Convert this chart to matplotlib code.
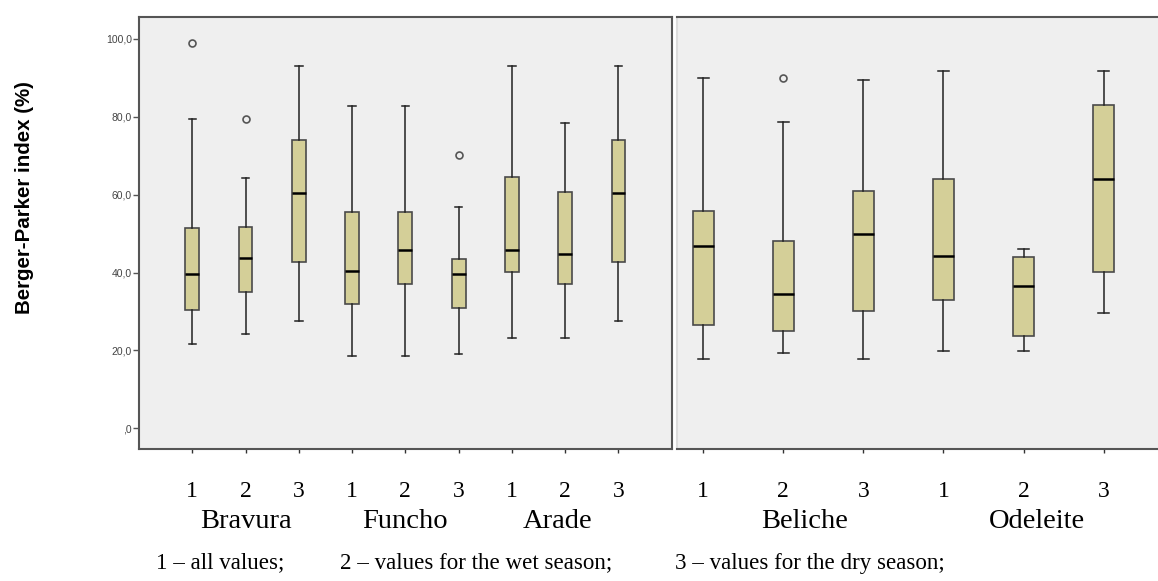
import matplotlib
matplotlib.use("Agg")
import matplotlib.pyplot as plt
import matplotlib.transforms as mtransforms

# data (Berger-Parker index, %)
left_groups = ['Bravura', 'Funcho', 'Arade']
right_groups = ['Beliche', 'Odeleite']
season_labels = ['1', '2', '3']

left_whishi = [79.5, 64.4, 93.1, 82.9, 82.9, 56.8, 93.1, 78.5, 93.1]
left_q3 = [51.4, 51.7, 74.1, 55.5, 55.5, 43.6, 64.5, 60.8, 74.1]
left_med = [39.6, 43.7, 60.4, 40.4, 45.9, 39.6, 45.7, 44.9, 60.4]
left_q1 = [30.4, 34.9, 42.8, 32.0, 37.1, 31.0, 40.1, 37.2, 42.8]
left_whislo = [21.7, 24.3, 27.6, 18.6, 18.6, 19.1, 23.2, 23.2, 27.6]
left_fliers = [[98.9], [79.4], [], [], [], [70.3], [], [], []]

right_whishi = [89.9, 78.7, 89.5, 91.9, 46.1, 91.9]
right_q3 = [55.9, 48.2, 61.0, 64.0, 44.1, 83.0]
right_med = [46.8, 34.5, 49.8, 44.2, 36.5, 64.0]
right_q1 = [26.5, 24.9, 30.2, 33.0, 23.6, 40.1]
right_whislo = [17.8, 19.3, 17.8, 19.9, 19.9, 29.7]
right_fliers = [[], [90.0], [], [], [], []]

y_ticks = [0, 20, 40, 60, 80, 100]
y_tick_labels = [',0', '20,0', '40,0', '60,0', '80,0', '100,0']

footnotes = ['1 \u2013 all values;', '2 \u2013 values for the wet season;',
             '3 \u2013 values for the dry season;']

W, H = 1158, 581
BOX_FILL = '#d4cf98'
BG = '#efefef'
FRAME = '#555555'


def make_stats(whislo, q1, med, q3, whishi, fliers):
    stats = []
    for i in range(len(med)):
        stats.append(dict(whislo=whislo[i], q1=q1[i], med=med[i], q3=q3[i],
                          whishi=whishi[i], fliers=fliers[i]))
    return stats


def px_axes(fig, x0, y0, x1, y1):
    return fig.add_axes([x0 / W, 1 - y1 / H, (x1 - x0) / W, (y1 - y0) / H])


def draw_boxes(ax, stats):
    pos = list(range(1, len(stats) + 1))
    ax.bxp(stats, positions=pos, widths=0.26, capwidths=0.14, patch_artist=True,
           boxprops=dict(facecolor=BOX_FILL, edgecolor='#4a4a4a', linewidth=1.2),
           medianprops=dict(color='black', linewidth=1.8),
           whiskerprops=dict(color='#222222', linewidth=1.1),
           capprops=dict(color='#222222', linewidth=1.1),
           flierprops=dict(marker='o', markerfacecolor='none', markeredgecolor='#555555',
                           markersize=5, markeredgewidth=1.2))
    ax.set_facecolor(BG)
    ax.set_ylim(-5.3, 105.65)
    ax.set_xticks(pos)
    ax.set_xticklabels(season_labels * (len(stats) // 3), family='Liberation Serif', fontsize=17)
    ax.tick_params(axis='x', length=3, width=1, color='#333333', pad=20)
    for s in ax.spines.values():
        s.set_color(FRAME)
        s.set_linewidth(1.5)
    return pos


fig = plt.figure(figsize=(W / 100, H / 100), dpi=100)

ax1 = px_axes(fig, 139, 17, 671.7, 449)
draw_boxes(ax1, make_stats(left_whislo, left_q1, left_med, left_q3, left_whishi, left_fliers))
ax1.set_xlim(0, 10)
ax1.set_yticks(y_ticks)
ax1.set_yticklabels(y_tick_labels, family='Liberation Sans', fontsize=7.5, color='#444444')
ax1.tick_params(axis='y', length=4, width=1, color='#555555', pad=1)

ax2 = px_axes(fig, 677.3, 17, 1162, 449)
draw_boxes(ax2, make_stats(right_whislo, right_q1, right_med, right_q3, right_whishi, right_fliers))
ax2.set_xlim(0.675, 6.73)
ax2.tick_params(axis='y', left=False, labelleft=False)
ax2.spines['left'].set_color('#dcdcdc')
ax2.spines['right'].set_visible(False)

# site names under the 1-2-3 ticks
name_y = 1 - 522 / H
for ax, names, xs in [(ax1, left_groups, [2, 5, 7.86]), (ax2, right_groups, [2.26, 5.17])]:
    trans = mtransforms.blended_transform_factory(ax.transData, fig.transFigure)
    for name, x in zip(names, xs):
        ax.text(x, name_y, name, transform=trans, ha='center', va='center',
                family='Liberation Serif', fontsize=20.5)

fig.text(25 / W, 1 - 197.5 / H, 'Berger-Parker index (%)', rotation=90, ha='center', va='center',
         family='Liberation Sans', fontweight='bold', fontsize=14.8)

for x, t in zip([156, 340, 675], footnotes):
    fig.text(x / W, 1 - 563 / H, t, ha='left', va='center', family='Liberation Serif', fontsize=16.6)

fig.savefig('out.png', dpi=100)
